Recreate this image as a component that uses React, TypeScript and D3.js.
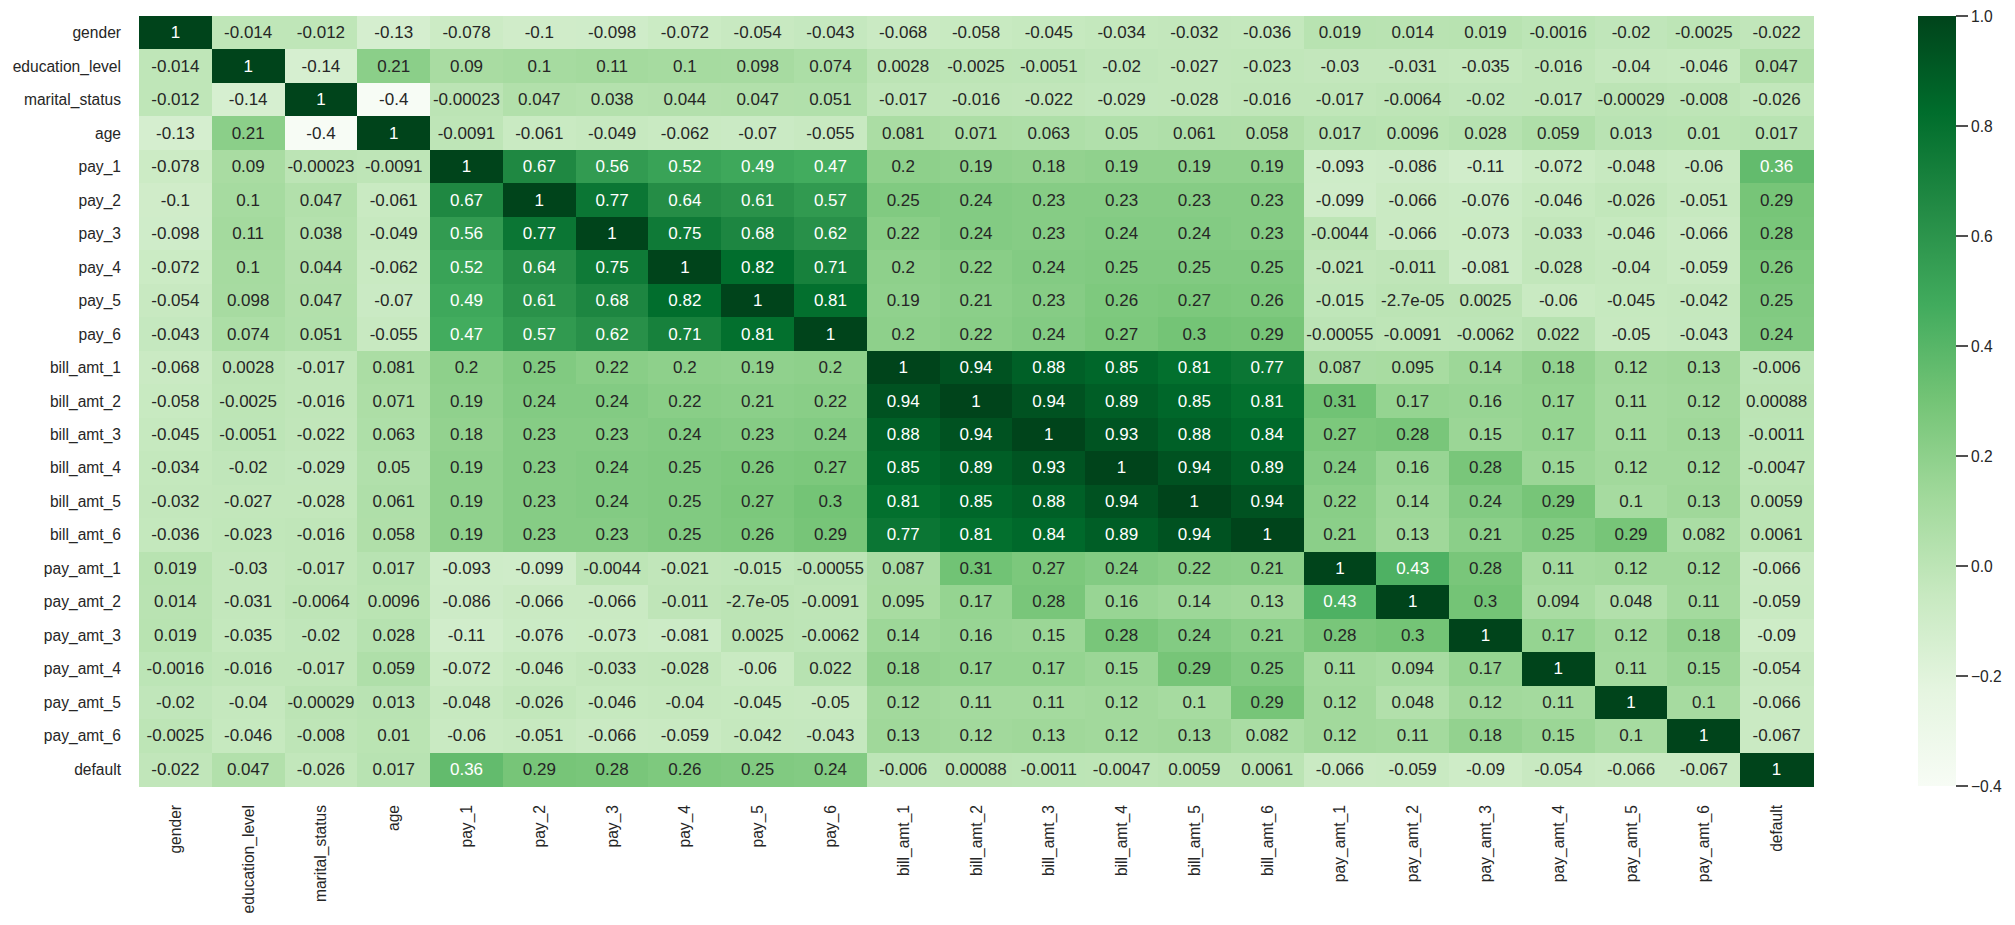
import React from "react";
import * as d3 from "d3";

const labels = [
  "gender", "education_level", "marital_status", "age",
  "pay_1", "pay_2", "pay_3", "pay_4", "pay_5", "pay_6",
  "bill_amt_1", "bill_amt_2", "bill_amt_3", "bill_amt_4", "bill_amt_5", "bill_amt_6",
  "pay_amt_1", "pay_amt_2", "pay_amt_3", "pay_amt_4", "pay_amt_5", "pay_amt_6",
  "default",
];

const rowGender = [1, -0.014, -0.012, -0.13, -0.078, -0.1, -0.098, -0.072, -0.054, -0.043, -0.068, -0.058, -0.045, -0.034, -0.032, -0.036, 0.019, 0.014, 0.019, -0.0016, -0.02, -0.0025, -0.022];
const rowEducation = [-0.014, 1, -0.14, 0.21, 0.09, 0.1, 0.11, 0.1, 0.098, 0.074, 0.0028, -0.0025, -0.0051, -0.02, -0.027, -0.023, -0.03, -0.031, -0.035, -0.016, -0.04, -0.046, 0.047];
const rowMarital = [-0.012, -0.14, 1, -0.4, -0.00023, 0.047, 0.038, 0.044, 0.047, 0.051, -0.017, -0.016, -0.022, -0.029, -0.028, -0.016, -0.017, -0.0064, -0.02, -0.017, -0.00029, -0.008, -0.026];
const rowAge = [-0.13, 0.21, -0.4, 1, -0.0091, -0.061, -0.049, -0.062, -0.07, -0.055, 0.081, 0.071, 0.063, 0.05, 0.061, 0.058, 0.017, 0.0096, 0.028, 0.059, 0.013, 0.01, 0.017];
const rowPay1 = [-0.078, 0.09, -0.00023, -0.0091, 1, 0.67, 0.56, 0.52, 0.49, 0.47, 0.2, 0.19, 0.18, 0.19, 0.19, 0.19, -0.093, -0.086, -0.11, -0.072, -0.048, -0.06, 0.36];
const rowPay2 = [-0.1, 0.1, 0.047, -0.061, 0.67, 1, 0.77, 0.64, 0.61, 0.57, 0.25, 0.24, 0.23, 0.23, 0.23, 0.23, -0.099, -0.066, -0.076, -0.046, -0.026, -0.051, 0.29];
const rowPay3 = [-0.098, 0.11, 0.038, -0.049, 0.56, 0.77, 1, 0.75, 0.68, 0.62, 0.22, 0.24, 0.23, 0.24, 0.24, 0.23, -0.0044, -0.066, -0.073, -0.033, -0.046, -0.066, 0.28];
const rowPay4 = [-0.072, 0.1, 0.044, -0.062, 0.52, 0.64, 0.75, 1, 0.82, 0.71, 0.2, 0.22, 0.24, 0.25, 0.25, 0.25, -0.021, -0.011, -0.081, -0.028, -0.04, -0.059, 0.26];
const rowPay5 = [-0.054, 0.098, 0.047, -0.07, 0.49, 0.61, 0.68, 0.82, 1, 0.81, 0.19, 0.21, 0.23, 0.26, 0.27, 0.26, -0.015, -2.7e-5, 0.0025, -0.06, -0.045, -0.042, 0.25];
const rowPay6 = [-0.043, 0.074, 0.051, -0.055, 0.47, 0.57, 0.62, 0.71, 0.81, 1, 0.2, 0.22, 0.24, 0.27, 0.3, 0.29, -0.00055, -0.0091, -0.0062, 0.022, -0.05, -0.043, 0.24];
const rowBill1 = [-0.068, 0.0028, -0.017, 0.081, 0.2, 0.25, 0.22, 0.2, 0.19, 0.2, 1, 0.94, 0.88, 0.85, 0.81, 0.77, 0.087, 0.095, 0.14, 0.18, 0.12, 0.13, -0.006];
const rowBill2 = [-0.058, -0.0025, -0.016, 0.071, 0.19, 0.24, 0.24, 0.22, 0.21, 0.22, 0.94, 1, 0.94, 0.89, 0.85, 0.81, 0.31, 0.17, 0.16, 0.17, 0.11, 0.12, 0.00088];
const rowBill3 = [-0.045, -0.0051, -0.022, 0.063, 0.18, 0.23, 0.23, 0.24, 0.23, 0.24, 0.88, 0.94, 1, 0.93, 0.88, 0.84, 0.27, 0.28, 0.15, 0.17, 0.11, 0.13, -0.0011];
const rowBill4 = [-0.034, -0.02, -0.029, 0.05, 0.19, 0.23, 0.24, 0.25, 0.26, 0.27, 0.85, 0.89, 0.93, 1, 0.94, 0.89, 0.24, 0.16, 0.28, 0.15, 0.12, 0.12, -0.0047];
const rowBill5 = [-0.032, -0.027, -0.028, 0.061, 0.19, 0.23, 0.24, 0.25, 0.27, 0.3, 0.81, 0.85, 0.88, 0.94, 1, 0.94, 0.22, 0.14, 0.24, 0.29, 0.1, 0.13, 0.0059];
const rowBill6 = [-0.036, -0.023, -0.016, 0.058, 0.19, 0.23, 0.23, 0.25, 0.26, 0.29, 0.77, 0.81, 0.84, 0.89, 0.94, 1, 0.21, 0.13, 0.21, 0.25, 0.29, 0.082, 0.0061];
const rowPayAmt1 = [0.019, -0.03, -0.017, 0.017, -0.093, -0.099, -0.0044, -0.021, -0.015, -0.00055, 0.087, 0.31, 0.27, 0.24, 0.22, 0.21, 1, 0.43, 0.28, 0.11, 0.12, 0.12, -0.066];
const rowPayAmt2 = [0.014, -0.031, -0.0064, 0.0096, -0.086, -0.066, -0.066, -0.011, -2.7e-5, -0.0091, 0.095, 0.17, 0.28, 0.16, 0.14, 0.13, 0.43, 1, 0.3, 0.094, 0.048, 0.11, -0.059];
const rowPayAmt3 = [0.019, -0.035, -0.02, 0.028, -0.11, -0.076, -0.073, -0.081, 0.0025, -0.0062, 0.14, 0.16, 0.15, 0.28, 0.24, 0.21, 0.28, 0.3, 1, 0.17, 0.12, 0.18, -0.09];
const rowPayAmt4 = [-0.0016, -0.016, -0.017, 0.059, -0.072, -0.046, -0.033, -0.028, -0.06, 0.022, 0.18, 0.17, 0.17, 0.15, 0.29, 0.25, 0.11, 0.094, 0.17, 1, 0.11, 0.15, -0.054];
const rowPayAmt5 = [-0.02, -0.04, -0.00029, 0.013, -0.048, -0.026, -0.046, -0.04, -0.045, -0.05, 0.12, 0.11, 0.11, 0.12, 0.1, 0.29, 0.12, 0.048, 0.12, 0.11, 1, 0.1, -0.066];
const rowPayAmt6 = [-0.0025, -0.046, -0.008, 0.01, -0.06, -0.051, -0.066, -0.059, -0.042, -0.043, 0.13, 0.12, 0.13, 0.12, 0.13, 0.082, 0.12, 0.11, 0.18, 0.15, 0.1, 1, -0.067];
const rowDefault = [-0.022, 0.047, -0.026, 0.017, 0.36, 0.29, 0.28, 0.26, 0.25, 0.24, -0.006, 0.00088, -0.0011, -0.0047, 0.0059, 0.0061, -0.066, -0.059, -0.09, -0.054, -0.066, -0.067, 1];

const matrix = [
  rowGender, rowEducation, rowMarital, rowAge,
  rowPay1, rowPay2, rowPay3, rowPay4, rowPay5, rowPay6,
  rowBill1, rowBill2, rowBill3, rowBill4, rowBill5, rowBill6,
  rowPayAmt1, rowPayAmt2, rowPayAmt3, rowPayAmt4, rowPayAmt5, rowPayAmt6,
  rowDefault,
];

const colorbarTicks = [-0.4, -0.2, 0.0, 0.2, 0.4, 0.6, 0.8, 1.0];
const vMin = -0.4;
const vMax = 1.0;

const GREENS = ["#f7fcf5", "#e5f5e0", "#c7e9c0", "#a1d99b", "#74c476", "#41ab5d", "#238b45", "#006d2c", "#00441b"];

const W = 2015;
const H = 925;
const HM = { left: 139, right: 1813, top: 16, bottom: 786 };
const CB = { left: 1918, right: 1956 };
const FONT = "'Liberation Sans', Arial, Helvetica, sans-serif";
const TEXT_DARK = "#262626";

function fmtG2(v: number): string {
  if (v === 0) return "0";
  const exp = Math.floor(Math.log10(Math.abs(Number(v.toPrecision(2)))));
  if (exp < -4 || exp >= 2) {
    let s = v.toExponential(1);
    s = s.replace(/\.?0+e/, "e");
    s = s.replace(/e([+-])(\d)$/, "e$10$2");
    return s;
  }
  return String(Number(v.toPrecision(2)));
}

function relLum(c: string): number {
  const rgb = d3.rgb(c);
  const f = (u: number) => {
    const x = u / 255;
    return x <= 0.03928 ? x / 12.92 : Math.pow((x + 0.055) / 1.055, 2.4);
  };
  return 0.2126 * f(rgb.r) + 0.7152 * f(rgb.g) + 0.0722 * f(rgb.b);
}

export default function App() {
  const x = d3.scaleBand<string>().domain(labels).range([HM.left, HM.right]);
  const y = d3.scaleBand<string>().domain(labels).range([HM.top, HM.bottom]);
  const color = d3
    .scaleLinear<string>()
    .domain(GREENS.map((_, i) => vMin + (i * (vMax - vMin)) / (GREENS.length - 1)))
    .range(GREENS)
    .interpolate(d3.interpolateRgb)
    .clamp(true);
  const cbY = d3.scaleLinear().domain([vMin, vMax]).range([HM.bottom, HM.top]);

  const bw = x.bandwidth();
  const bh = y.bandwidth();

  return (
    <svg
      width={W}
      height={H}
      style={{ position: "absolute", left: 0, top: 0, background: "#fff" }}
      fontFamily={FONT}
    >
      <defs>
        <linearGradient id="cbgrad" x1="0" y1="1" x2="0" y2="0">
          {GREENS.map((c, i) => (
            <stop key={i} offset={`${(i / (GREENS.length - 1)) * 100}%`} stopColor={c} />
          ))}
        </linearGradient>
      </defs>
      <rect x={0} y={0} width={W} height={H} fill="#fff" />
      <g>
        {matrix.map((row, ri) =>
          row.map((v, ci) => {
            const fill = color(v);
            return (
              <rect
                key={`c${ri}-${ci}`}
                x={x(labels[ci])}
                y={y(labels[ri])}
                width={bw + 0.6}
                height={bh + 0.6}
                fill={fill}
                shapeRendering="crispEdges"
              />
            );
          })
        )}
      </g>
      <g>
        {matrix.map((row, ri) =>
          row.map((v, ci) => {
            const fill = color(v);
            const tc = relLum(fill) > 0.408 ? TEXT_DARK : "#ffffff";
            return (
              <text
                key={`t${ri}-${ci}`}
                x={(x(labels[ci]) as number) + bw / 2}
                y={(y(labels[ri]) as number) + bh / 2}
                textAnchor="middle"
                dominantBaseline="central"
                fontSize={17}
                fill={tc}
              >
                {fmtG2(v)}
              </text>
            );
          })
        )}
      </g>
      <g>
        {labels.map((l) => (
          <text
            key={`yl-${l}`}
            x={HM.left - 18}
            y={(y(l) as number) + bh / 2}
            textAnchor="end"
            dominantBaseline="central"
            fontSize={15.6}
            fill={TEXT_DARK}
          >
            {l}
          </text>
        ))}
      </g>
      <g>
        {labels.map((l) => {
          const cx = (x(l) as number) + bw / 2;
          const ty = HM.bottom + 19;
          return (
            <text
              key={`xl-${l}`}
              transform={`translate(${cx},${ty}) rotate(-90)`}
              textAnchor="end"
              dominantBaseline="central"
              fontSize={15.6}
              fill={TEXT_DARK}
            >
              {l}
            </text>
          );
        })}
      </g>
      <rect
        x={CB.left}
        y={HM.top}
        width={CB.right - CB.left}
        height={HM.bottom - HM.top}
        fill="url(#cbgrad)"
      />
      <g>
        {colorbarTicks.map((t) => (
          <g key={`cb-${t}`} transform={`translate(0,${cbY(t)})`}>
            <line x1={CB.right} x2={CB.right + 12} y1={0} y2={0} stroke={TEXT_DARK} strokeWidth={1.6} />
            <text
              x={CB.right + 15}
              y={0}
              dominantBaseline="central"
              fontSize={15.6}
              fill={TEXT_DARK}
            >
              {t < 0 ? "\u2212" + Math.abs(t).toFixed(1) : t.toFixed(1)}
            </text>
          </g>
        ))}
      </g>
    </svg>
  );
}
